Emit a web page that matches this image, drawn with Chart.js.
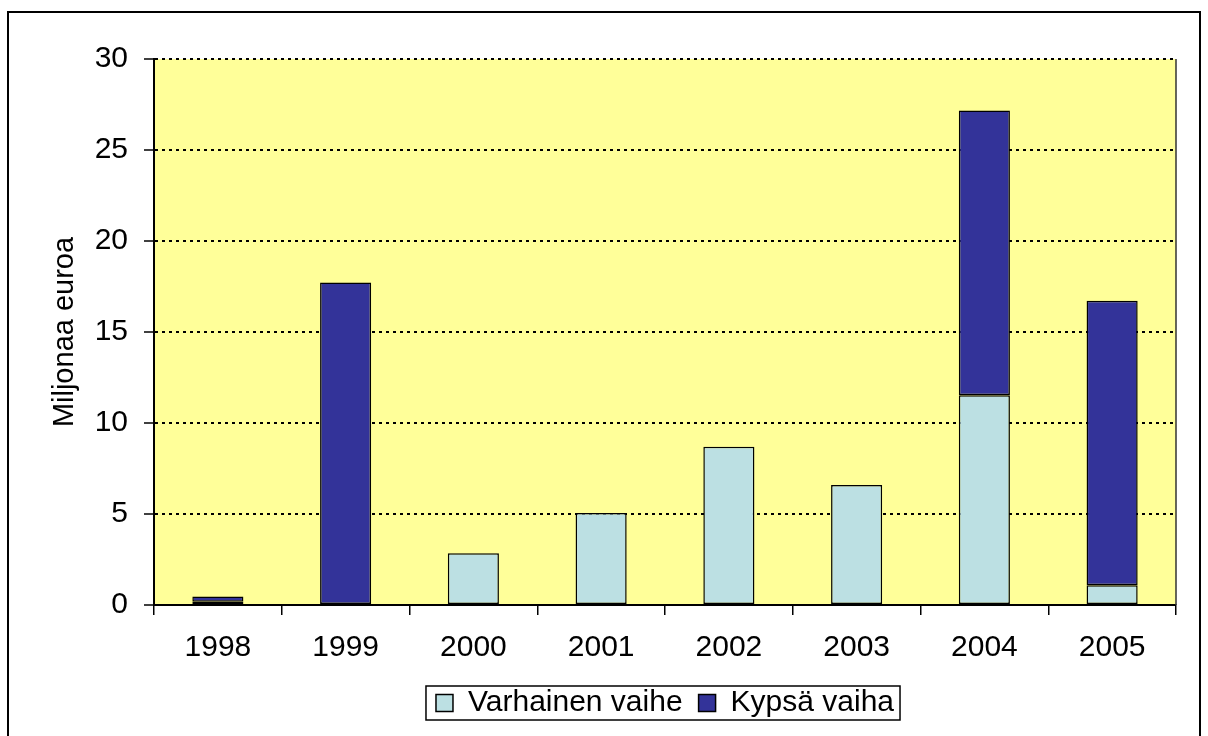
<!DOCTYPE html>
<html lang="fi">
<head>
<meta charset="UTF-8">
<title>Miljonaa euroa</title>
<script src="https://cdn.jsdelivr.net/npm/chart.js"></script>
<style>
  html, body { margin: 0; padding: 0; background: #fff; }
  #wrap { width: 1208px; height: 736px; }
</style>
</head>
<body>
<div id="wrap"><canvas id="chart" width="1208" height="736"></canvas></div>
<script>
const years = ['1998', '1999', '2000', '2001', '2002', '2003', '2004', '2005'];
const varhainen = [0.18, null, 2.85, 5.05, 8.7, 6.6, 11.53, 1.09];
const kypsa = [0.29, 17.72, null, null, null, null, 15.64, 15.63];

const FONT = 'Liberation Sans, Arial, sans-serif';

// frame around the whole picture, yellow plot area, box around legend
const frame = {
  id: 'frame',
  afterLayout(chart) {
    // center the legend under the plot area, not the whole canvas
    const a = chart.chartArea, lg = chart.legend;
    lg.left = a.left; lg.right = a.right; lg.width = a.right - a.left;
  },
  beforeDraw(chart) {
    const c = chart.ctx, a = chart.chartArea;
    c.save();
    c.fillStyle = '#FFFF99';
    c.fillRect(a.left, a.top, a.right - a.left, a.bottom - a.top);
    c.restore();
  },
  afterDraw(chart) {
    const c = chart.ctx, a = chart.chartArea;
    c.save();
    c.strokeStyle = '#000';
    c.lineWidth = 2;
    c.beginPath();
    c.moveTo(8, 740); c.lineTo(8, 12); c.lineTo(1200, 12); c.lineTo(1200, 740);
    c.stroke();
    c.lineWidth = 1.5;
    c.strokeStyle = '#333';
    c.beginPath();
    c.moveTo(a.right, a.top); c.lineTo(a.right, a.bottom);
    c.stroke();
    const boxes = chart.legend.legendHitBoxes;
    if (boxes && boxes.length) {
      const l = Math.min(...boxes.map(b => b.left)) - 10;
      const r = Math.max(...boxes.map(b => b.left + b.width)) + 6;
      const mid = boxes[0].top + boxes[0].height / 2;
      c.lineWidth = 1.5;
      c.strokeStyle = '#000';
      c.strokeRect(l, mid - 17, r - l, 34);
    }
    c.restore();
  }
};

new Chart(document.getElementById('chart'), {
  type: 'bar',
  data: {
    labels: years,
    datasets: [
      { label: 'Varhainen vaihe', data: varhainen, backgroundColor: '#BCE0E3', borderColor: '#000', borderWidth: 1.5, borderSkipped: false },
      { label: 'Kypsä vaiha', data: kypsa, backgroundColor: '#333399', borderColor: '#000', borderWidth: 1.5, borderSkipped: false }
    ]
  },
  options: {
    responsive: false,
    animation: false,
    barPercentage: 0.4,
    categoryPercentage: 1,
    layout: { padding: { left: 44, top: 59, right: 32, bottom: 8 } },
    plugins: {
      tooltip: { enabled: false },
      legend: {
        position: 'bottom',
        labels: {
          color: '#000',
          font: { family: FONT, size: 30 },
          boxWidth: 17, boxHeight: 17, padding: 16
        }
      }
    },
    scales: {
      x: {
        stacked: true,
        afterFit(s) { s.height = 67; },
        grid: { offset: true, drawOnChartArea: false, drawTicks: true, tickLength: 10, color: '#000', lineWidth: 1.5 },
        border: { color: '#000', width: 2 },
        ticks: { color: '#000', padding: 15, font: { family: FONT, size: 30 } }
      },
      y: {
        stacked: true,
        min: 0, max: 30,
        afterFit(s) { s.width = 110; },
        ticks: { stepSize: 5, color: '#000', padding: 16, font: { family: FONT, size: 30 } },
        grid: {
          color: ctx => ctx.tick && ctx.tick.value === 0 ? 'rgba(0,0,0,0)' : '#000',
          lineWidth: 2,
          tickColor: '#000',
          tickLength: 10,
          tickWidth: 1.5,
          tickBorderDash: [],
          drawTicks: true
        },
        border: { color: '#000', width: 2, dash: [3, 4] },
        title: { display: true, text: 'Miljonaa euroa', color: '#000', padding: 4, font: { family: FONT, size: 29 } }
      }
    }
  },
  plugins: [frame]
});
</script>
</body>
</html>
